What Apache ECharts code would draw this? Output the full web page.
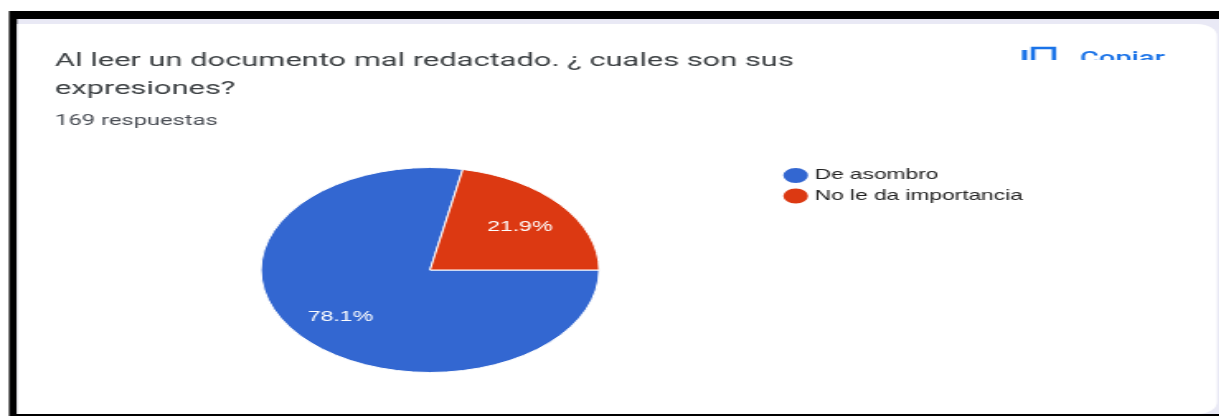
<!DOCTYPE html>
<html>
<head>
<meta charset="utf-8">
<style>
html,body{margin:0;padding:0;background:#fff;overflow:hidden;width:1220px;height:416px}
#chart{position:absolute;left:0;top:0;height:416px;transform-origin:0 0}
</style>
<script src="https://cdn.jsdelivr.net/npm/echarts@6/dist/echarts.min.js"></script>
</head>
<body>
<div id="chart"></div>
<script>
const categories = ['De asombro', 'No le da importancia'];
const seriesValues = [78.1, 21.9];
const seriesColors = ['#3367d1', '#dc3912'];
const titleLines = ['Al leer un documento mal redactado. ¿ cuales son sus', 'expresiones?'];
const subtitleText = '169 respuestas';
const copyText = 'Copiar';

// The reference is a screenshot stretched horizontally: draw in base units and stretch the whole canvas.
const K = 1.65;
const W = 1220 / K, H = 416;
const X = v => v / K;
const el = document.getElementById('chart');
el.style.width = W + 'px';
el.style.transform = 'scaleX(' + K + ')';

const cx = X(430), cy = 270, R = 102.5, labelR = 66.5, labelDy = 2.3;
const textFont = '"Liberation Sans", Arial, sans-serif';
const rect = (x0, y0, x1, y1, fill, z, r) => ({
  type: 'rect', z: z, silent: true,
  shape: { x: X(x0), y: y0, width: X(x1 - x0), height: y1 - y0, r: r || 0 },
  style: { fill: fill }
});

const chart = echarts.init(el, null, { renderer: 'canvas', width: W, height: H });
chart.setOption({
  animation: false,
  backgroundColor: '#ffffff',
  title: [
    { text: titleLines.join('\n'), left: X(55), top: 47, padding: 0,
      textStyle: { fontFamily: 'Roboto, sans-serif', fontSize: 18.7, fontWeight: 400, color: '#3c4043', lineHeight: 28 } },
    { text: subtitleText, left: X(55), top: 112, padding: 0,
      textStyle: { fontFamily: 'Roboto, sans-serif', fontSize: 14.4, fontWeight: 400, color: '#4a4e55', lineHeight: 18 } }
  ],
  legend: {
    orient: 'vertical', left: X(780), top: 166, padding: 0,
    icon: 'circle', itemWidth: 17, itemHeight: 17, itemGap: 1.5, selectedMode: false,
    data: categories,
    textStyle: { fontFamily: textFont, fontSize: 13.75, color: '#222222', padding: [0, 0, 0, -2] }
  },
  graphic: { elements: [
    rect(0, 0, 1220, 416, '#ffffff', 0),
    rect(9, 11, 1220, 416, '#000000', 0),
    rect(17, 19, 1220, 414, '#e9e9f5', 0),
    rect(17, 24, 1217, 414, '#ffffff', 0, [0, 12, 12, 0]),
    { type: 'rect', z: 1, silent: true, shape: { x: X(1033), y: 48, width: X(21), height: 30 },
      style: { fill: 'none', stroke: '#1a73e8', lineWidth: 2.6 } },
    rect(1022, 50, 1027, 80, '#1a73e8', 1),
    { type: 'text', z: 1, silent: true, x: X(1080), y: 51,
      style: { text: copyText, fontFamily: 'Roboto, sans-serif', fontSize: 17.5, fontWeight: 500, fill: '#1a73e8' } },
    rect(1010, 60, 1180, 100, '#ffffff', 2)
  ] },
  series: [{
    type: 'pie',
    center: [cx, cy], radius: [0, R],
    startAngle: 0, clockwise: true,
    z: 3,
    data: categories.map((name, i) => ({ name: name, value: seriesValues[i], itemStyle: { color: seriesColors[i] } })),
    itemStyle: { borderColor: '#ffffff', borderWidth: 1 },
    label: {
      position: 'inside', color: '#ffffff', fontFamily: textFont, fontSize: 14,
      formatter: p => p.value.toFixed(1) + '%'
    },
    labelLine: { show: false },
    emphasis: { disabled: true },
    labelLayout: p => {
      const f = labelR / (R / 2);
      const lx = p.labelRect.x + p.labelRect.width / 2;
      const ly = p.labelRect.y + p.labelRect.height / 2;
      return { x: cx + (lx - cx) * f, y: cy + (ly - cy) * f + labelDy, align: 'center', verticalAlign: 'middle' };
    }
  }]
});
</script>
</body>
</html>
